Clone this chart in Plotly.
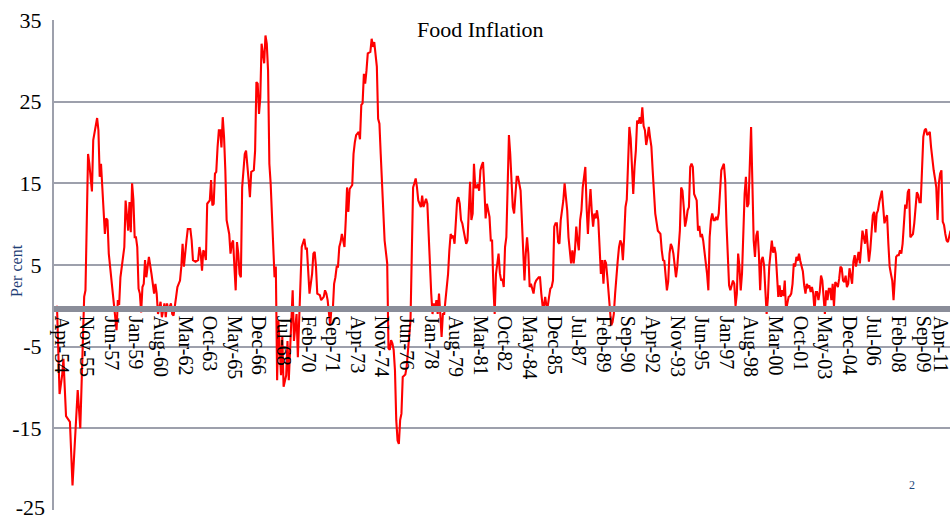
import plotly.graph_objects as go

# months counted from Apr-1954 (0 = Apr-54)
month_offsets = [
    0, 2, 4, 5, 7, 10, 12, 16, 18, 21, 22, 23, 24, 25, 27, 28, 30, 31, 32, 33, 34, 36, 37, 38, 39, 40, 42, 43, 46, 47, 48, 49, 51, 52,
    53, 55, 56, 57, 58, 59, 60, 61, 62, 63, 64, 65, 66, 67, 68, 69, 70, 71, 73, 74, 75, 76, 77, 78, 79, 80, 81, 83, 84, 85, 86, 88, 89, 90,
    92, 93, 95, 96, 97, 98, 100, 101, 103, 104, 105, 107, 109, 110, 111, 112, 113, 114, 115, 116,
    118, 119, 120, 121, 122, 123, 124, 125, 126, 127, 128, 129, 130, 131, 133, 134, 135, 136, 137, 138, 139, 140, 141, 142, 143, 145, 146,
    147, 148, 149, 150, 152, 153, 154, 155, 156, 157, 158, 160, 161, 162, 163, 164, 165, 167, 168, 169,
    170, 171, 173, 174, 175, 177, 178, 179, 181, 182, 183, 185, 186, 187, 188, 189, 191, 192, 193, 194, 195, 197, 198, 199, 200, 201, 203,
    204, 206, 207, 208, 209, 211, 212, 213, 214, 215, 216, 217, 218, 219, 220, 222, 223, 224, 225, 226,
    228, 229, 230, 231, 233, 234, 235, 236, 237, 238, 239, 240, 241, 242, 243, 244, 245, 246, 247, 248, 249, 250, 251, 252, 253, 255, 256,
    257, 258, 259, 260, 261, 262, 263, 264, 265, 266, 267, 269, 270, 271, 272, 273, 274, 275, 276, 277, 278, 279, 281, 282, 283, 284, 285,
    286, 287, 288, 289,
    290, 291, 292, 293, 294, 295, 296, 297, 298, 299, 300, 302, 303, 304, 305, 306, 307, 308, 309, 310, 311, 312, 313, 315, 316, 317, 318,
    319, 320, 321, 322, 323, 324, 325, 326, 327, 328, 329, 330, 331, 332, 334, 335, 336, 337, 338, 339, 340, 341, 342,
    343, 344, 345, 346, 347, 348, 349, 350, 351, 352, 353, 354, 355, 356, 357, 358, 359, 360, 361, 362, 363, 364, 365, 366, 368, 369, 370,
    372, 373, 374, 375, 376, 377, 378, 379, 380, 381, 382, 383, 384, 385, 386, 387, 388, 389, 391, 392, 393, 394, 395, 396, 397, 398, 399, 400,
    401, 402, 403, 404, 405, 406, 407, 408, 409, 410, 411, 412, 413, 414, 415, 416, 417, 418, 419, 420, 421, 422, 423, 424, 425, 426, 427,
    428, 429, 430, 431, 432, 433, 434, 435, 436, 437, 438, 439, 440, 441, 442, 443, 444, 445, 446, 447, 448, 449, 450, 451, 452, 453, 454,
    455, 456, 457,
    458, 459, 460, 461, 462, 464, 466, 467, 468, 469, 470, 471, 472, 473, 474, 475, 476, 477, 478, 479, 480, 481, 482, 483, 484, 485, 486,
    487, 488, 489, 490, 491, 492, 493, 494, 495, 496, 497, 498, 499, 500, 501, 502, 503, 504, 505, 506, 507, 508, 509, 510, 511, 512, 513,
    515, 516,
    517, 518, 519, 520, 521, 522, 523, 524, 525, 526, 527, 528, 529, 530, 531, 532, 533, 534, 535, 536, 537, 538, 539, 540, 541, 542, 543,
    544, 545, 546, 547, 548, 549, 550, 551, 552, 553, 554, 555, 556, 557, 558, 559, 560, 561, 562, 563, 564, 565, 566, 567, 568, 569, 570,
    571, 572, 573, 574, 575, 576, 577,
    578, 579, 580, 581, 582, 583, 584, 585, 586, 587, 588, 589, 590, 591, 592, 593, 594, 595, 596, 597, 598, 599, 600, 601, 602, 603, 604,
    605, 606, 607, 608, 609, 610, 611, 612, 613, 614, 615, 616, 617, 618, 619, 620, 621, 622, 623, 624, 625, 626, 627, 628, 629, 630, 631,
    632, 633, 634, 635,
    636, 637, 638, 639, 640, 641, 642, 643, 644, 645, 646, 647, 648, 649, 650, 651, 652, 653, 654, 655, 656, 657, 658, 659, 660, 661, 662,
    663, 664, 665, 666, 667, 668, 669, 670, 671, 672, 673, 674, 675, 676, 677, 678, 679, 680, 681, 682, 683, 684, 685, 686, 687, 688, 689, 690,
]

# food inflation, per cent
food_inflation = [
    0, -10.8, -8.5, -6.5, -13.5, -14.2, -22, -10.3, -15, 1.1, 1.9, 11.7, 18.6, 17.4, 14, 20.3, 21.9, 23, 21.5, 15.8, 17.4, 10.5, 8.8, 10.7, 10.5, 6.4, 3.3, 1.1, -3, 0.7, 0.1, 3.5, 6.4, 7.2,
    12.9, 9.2, 12.7, 9, 15, 13, 8.4, 8.4, 7.2, 2.1, 1.5, -0.8, 2.3, 2.7, 5.6, 3.5, 4.8, 6, 3.9, 2.5, 1.5, 2.7, 1.5, -1, 0, 0.5, -1.4, 0.3, -1.4, 0.3, -0.6, 0.3, -1, -1.2,
    1.1, 2.3, 3.1, 4.8, 7.6, 4.8, 8, 9.4, 9.4, 8, 5.6, 5.4, 5.6, 7.2, 6.4, 4.3, 6.8, 6.5, 5.6, 12.5,
    12.9, 15.4, 12.3, 12.5, 16.2, 16.4, 19.4, 21.5, 21.5, 19.4, 23.1, 20.7, 16.6, 10.5, 8.8, 6.4, 7.6, 8, 4.8, 1.9, 7.8, 6.4, 3.9, 3.5, 14.5, 18.6, 19,
    16.6, 15.4, 13.3, 16.4, 16.6, 19, 27.4, 27.2, 23.5, 25.5, 32.1, 29.7, 33.1, 32.1, 28.8, 17.4, 15, 6.4, 3.5, 4.8,
    -9.1, -1.8, -8.5, -3.8, -9.9, -8.5, -4.3, -9.1, -1.8, 1.9, -4.3, -1, -6.3, -1, 3.9, 7.2, 8.2, 7, 7, 3.9, 1.5, 3.9, 6.4, 6.6, 4.8, 1.5, 1.3,
    0.7, 1.1, 1.9, 1.5, 0.7, -2.4, -0.1, -0.5, 2.7, 3.5, 4.8, 4.8, 7.2, 7.8, 8.8, 7.2, 10.5, 14.5, 11.5, 14.3,
    14.8, 18.6, 20, 20.9, 21.3, 20.4, 24.6, 24.8, 28.4, 27.2, 28.8, 30.9, 31, 31.1, 32.7, 31.7, 32.3, 30.9, 29.3, 22.9, 22.3, 18.6, 15.4, 10.5, 8, 5.2, -5.2,
    -5.4, -4.2, -4.6, -5.4, -7.9, -14, -16.5, -16.9, -14, -13.2, -8.7, -8.4, -7.5, -5.9, -4.2, -1.8, 6.4, 14.5, 15, 15.6, 14.5, 12.9, 12.1, 13.5, 12.1, 12.7, 13.1,
    12.5, 8, 4.8, 1.5,
    -1, 0.3, -0.4, 0.7, -1, 1.5, -1, -3.8, -1, -1, 0.7, 3.9, 6.8, 8.8, 8.4, 8.6, 7.6, 9.7, 12.9, 13.3, 12.5, 10.5, 10.1, 8.4, 7.6, 8, 11.3,
    15.2, 10.5, 11.3, 17.4, 14.5, 14.5, 14.9, 14.1, 16.6, 17.2, 17.6, 14.5, 10.7, 12.5, 10.9, 8, 8, 2.3, -1, 3.9, 5.2, 6.4, 4,
    3.1, 3.3, 2.3, 7.2, 8.4, 14.5, 20.9, 18.6, 15.4, 12.1, 11.3, 13.7, 15.8, 15.8, 15, 14.1, 10.5, 6.8, 3.1, 6.4, 8.4, 6.4, 2.3, 2.7, 1.5, 2.7, 3.1,
    3.5, 3.5, 1.5, 0, 0, 1.1, 0, 0, 1.1, 2.1, 2.3, 3.1, 9.7, 10.1, 10.1, 7.8, 7.6, 10.5, 12.9, 15, 13.3, 11.7, 8.4, 6.8, 5.2, 6.8, 5.2, 6.8,
    9.7, 8, 6.8, 10.5, 11.7, 14.5, 16.2, 17, 12, 8.8, 12.1, 14.3, 11.5, 9.7, 11.3, 10.7, 11.7, 10.5, 7.2, 3.9, 5.6, 2.7, 5.6, 5.2, 3.5, 1.5, -1,
    -2.4, -2, -1, 1.5, 3.9, 5.5, 7.2, 8, 7.6, 5.6, 8.4, 12.1, 13, 19, 21.9, 20.5, 16.2, 13.7, 17, 19, 22.7, 22.3, 23.1, 22.3, 24.3, 22, 21.5,
    19.7, 20.6, 21.9,
    20.6, 19.5, 16.6, 12.9, 11.3, 9.2, 8.8, 6.8, 5.6, 5.5, 3.1, 1.9, 3, 6.4, 7.6, 7.2, 6.4, 4.8, 3.5, 4.8, 7.6, 9.2, 14.5, 14.1, 12.1, 9.7, 10.5,
    11.7, 12.1, 17, 17.4, 17, 13.7, 13.3, 12.9, 9.2, 9.8, 8.4, 8.8, 8, 6.8, 5.6, 3.9, 1.9, 8.4, 10.5, 11.3, 10.5, 10.5, 10.9, 10.5, 11.3, 14.5, 16.6,
    17.4, 15.4,
    10, 5.5, 2.5, 1.9, 2.7, 3.1, 2.7, 0, 1.5, 6.4, 4.8, 1.9, 4, 9, 13.7, 15.8, 12.1, 12.5, 17, 21.9, 15, 8, 6, 8.6, 9.2, 6.4, 1.9,
    5.6, 6, 5, 1.9, -1, 1, 4.8, 6.4, 8, 6.5, 7.2, 6.4, 3.9, 1.1, 2.5, 1.1, 1.9, 1.2, 3.1, -0.6, 0.3, 1.1, 1.2, 1.5, 2.7, 5.2, 4.8,
    6, 5.5, 6.4, 5.5, 4.8, 4.2, 2.5,
    1.5, 2.7, 2.3, 2.5, 1.7, 2.3, 1.5, -0.6, 1.7, 1.7, 0.7, 1.7, 3.7, 3.1, 0.5, -1, 1.9, 0.7, 2.1, 2.1, 0.7, 2.7, -0.1, 2.9, 2.7, 2.3, 3.3,
    4.8, 4.6, 3.1, 2.9, 3.7, 2.3, 2.7, 4.6, 3.5, 2.7, 5.4, 6.2, 4.8, 6, 6.6, 5.2, 8, 9.2, 8.4, 7.6, 9.4, 7.2, 5.4, 6.8, 8.8, 11.1, 11.5,
    9, 11.3, 11.7, 12.7,
    13.5, 14.1, 12.1, 10.1, 10.7, 11.1, 7.6, 4.8, 3.9, 3.1, 0.7, 3.9, 6, 6.2, 6.2, 6.8, 6.4, 7.6, 10.7, 12.4, 11.9, 13.9, 14.3, 8.4, 8.6, 8.8, 10.1,
    12.5, 13.9, 13.6, 12.7, 12.7, 16.4, 20.7, 21.5, 21.7, 20.9, 21.1, 21.3, 19.4, 17.6, 16.6, 15.6, 14.5, 10.5, 15, 16.2, 16.6, 10.3, 9.9, 8.8, 8, 7.8, 8.6, 9.2,
]

tick_labels = ["Apr-54", "Nov-55", "Jun-57", "Jan-59", "Aug-60", "Mar-62", "Oct-63", "May-65", "Dec-66",
               "Jul-68", "Feb-70", "Sep-71", "Apr-73", "Nov-74", "Jun-76", "Jan-78", "Aug-79", "Mar-81",
               "Oct-82", "May-84", "Dec-85", "Jul-87", "Feb-89", "Sep-90", "Apr-92", "Nov-93", "Jun-95",
               "Jan-97", "Aug-98", "Mar-00", "Oct-01", "May-03", "Dec-04", "Jul-06", "Feb-08", "Sep-09", "Apr-11"]
tick_step_months = 19
y_ticks = [-25, -15, -5, 5, 15, 25, 35]
y_tick_labels = ["-25", "-15", "-5", "5", "15", "25", "35"]

assert len(month_offsets) == len(food_inflation), (len(month_offsets), len(food_inflation))

SERIF = "Liberation Serif, Times New Roman, serif"
GRID = "#9DA0AC"
AXIS = "#8A8D99"

fig = go.Figure(go.Scatter(
    x=month_offsets, y=food_inflation, mode="lines",
    line=dict(color="#FF0000", width=2.1), hoverinfo="skip",
))

fig.update_layout(
    width=950, height=517,
    margin=dict(l=54, r=0, t=20, b=7),
    paper_bgcolor="white", plot_bgcolor="white",
    showlegend=False,
    font=dict(family=SERIF, color="black", size=18),
)

tick_positions = [i * tick_step_months for i in range(len(tick_labels))]

# the axis draws every label that fits in the window; the last x label and the
# bottom y label sit at the window edges, so they are drawn as text boxes kept inside
fig.update_xaxes(
    range=[-2.3, 689.6],
    tickvals=tick_positions[:-1],
    ticktext=tick_labels[:-1],
    tickangle=90,
    anchor="free", position=25 / 60 - 3 / 490,
    showline=True, linewidth=6, linecolor=AXIS,
    showgrid=False, zeroline=False, ticks="",
    ticklabelshift=5,
    tickfont=dict(family=SERIF, size=20, color="black"),
)

fig.update_yaxes(
    range=[-25, 35], tickvals=y_ticks[1:], ticktext=y_tick_labels[1:],
    showgrid=True, gridcolor=GRID, gridwidth=2,
    showline=True, linecolor=GRID, linewidth=2,
    zeroline=False, ticks="", ticklabelstandoff=6,
    tickfont=dict(family=SERIF, size=22, color="black"),
)

# last x label, nudged left so it stays fully inside the window
fig.add_annotation(text=tick_labels[-1], xref="x", yref="paper",
                   x=tick_positions[-1], xshift=-2, y=1 - (313 - 20) / 490,
                   textangle=90, showarrow=False, xanchor="center", yanchor="top",
                   width=62, height=18, borderpad=0, borderwidth=0,
                   font=dict(family=SERIF, size=20, color="black"))
# bottom y label, resting on the bottom edge of the window
fig.add_annotation(text=y_tick_labels[0], xref="paper", yref="y",
                   x=(45 - 54) / 896, y=y_ticks[0], yshift=-7,
                   showarrow=False, xanchor="right", yanchor="bottom",
                   width=36, height=20, borderpad=0, borderwidth=0, align="right",
                   font=dict(family=SERIF, size=22, color="black"))

fig.add_annotation(text="Food Inflation", xref="paper", yref="paper", x=0.4755, y=0.9816,
                   showarrow=False, xanchor="center", yanchor="middle",
                   font=dict(family=SERIF, size=22, color="black"))
fig.add_annotation(text="Per cent", xref="paper", yref="paper", x=-0.0413, y=0.49, textangle=-90,
                   showarrow=False, xanchor="center", yanchor="middle",
                   font=dict(family=SERIF, size=16, color="#1F3F77"))
fig.add_annotation(text="2", xref="paper", yref="paper", x=0.9576, y=0.051,
                   showarrow=False, xanchor="center", yanchor="middle",
                   font=dict(family=SERIF, size=12, color="#1F497D"))

# remove the default page margin so the figure fills the 950x517 window exactly
fig.write_html(
    "out.html",
    config={"displayModeBar": False},
    post_script=(
        "var h=document.documentElement, b=document.body;"
        "h.style.margin='0'; h.style.padding='0'; h.style.overflow='hidden';"
        "b.style.margin='0'; b.style.padding='0'; b.style.overflow='hidden';"
    ),
)
